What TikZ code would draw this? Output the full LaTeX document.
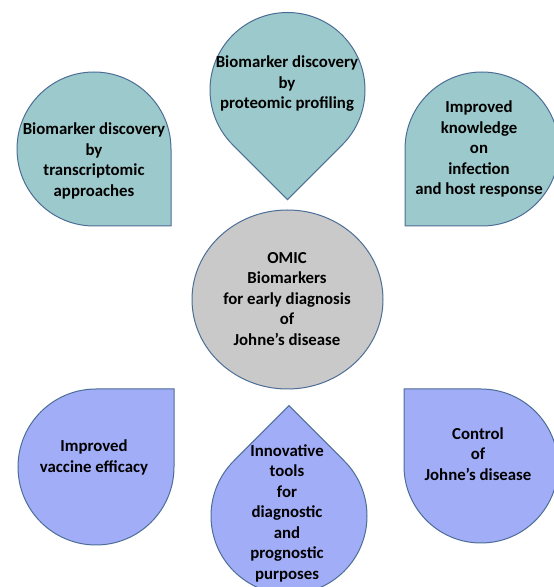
\documentclass[tikz,border=0pt]{standalone}
\usepackage{fontspec}
\setmainfont{Carlito}
\usepackage{tikz}
\definecolor{tealfill}{HTML}{9CC9CB}
\definecolor{lavfill}{HTML}{A2ADF7}
\definecolor{greyfill}{HTML}{C9C9C9}
\definecolor{rim}{HTML}{4C6E96}
\tikzset{
	drop/.style = {draw=rim, line width=1pt},
	label/.style = {align=center, font=\fontsize{16.8}{20.5}\selectfont\bfseries}
}

\begin{document}
\begin{tikzpicture}[x=1pt, y=1pt]
	\useasboundingbox (0, 0) rectangle (554, 587);
	\clip (0, 0) rectangle (554, 587);
	\draw [drop, fill=tealfill] (171, 361) -- (171, 438) arc [start angle=0, end angle=270, radius=77] -- cycle;
	\draw [drop, fill=tealfill] (287.5, 387.4) -- ++(45:77.5) arc [start angle=-45, end angle=225, radius=77.5] -- cycle;
	\draw [drop, fill=tealfill] (405, 361) -- (482, 361) arc [start angle=-90, end angle=180, radius=77] -- cycle;
	\draw [drop, fill=greyfill] (287.5, 287.5) ellipse [x radius=95.5, y radius=89.5];
	\draw [drop, fill=lavfill] (174, 198) -- (96, 198) arc [start angle=90, end angle=360, radius=78] -- cycle;
	\draw [drop, fill=lavfill] (289, 181.3) -- ++(-135:78) arc [start angle=135, end angle=405, radius=78] -- cycle;
	\draw [drop, fill=lavfill] (404, 198) -- (404, 121) arc [start angle=180, end angle=450, radius=77] -- cycle;
	\node [label] (T) at (94, 426) {Biomarker discovery\\by\\transcriptomic\\approaches};
	\node [label] (P) at (287, 503) {Biomarker discovery\\by\\proteomic profiling};
	\node [label] (K) at (479, 438) {Improved\\knowledge\\on\\infection\\and host response};
	\node [label] (O) at (287, 288) {OMIC\\Biomarkers\\for early diagnosis\\of\\Johne’s disease};
	\node [label] (V) at (94, 129.5) {Improved\\vaccine efficacy};
	\node [label] (I) at (287, 74) {Innovative\\tools\\for\\diagnostic\\and\\prognostic\\purposes};
	\node [label] (C) at (478, 133) {Control\\of\\Johne’s disease};
\end{tikzpicture}
\end{document}
